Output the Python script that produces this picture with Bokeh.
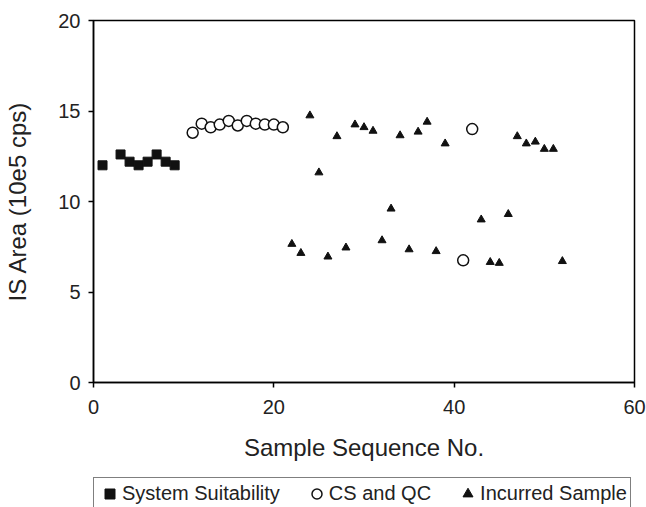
from bokeh.plotting import figure
from bokeh.models import Legend, LegendItem, Range1d, FixedTicker
from bokeh.embed import file_html
from bokeh.resources import INLINE

# System Suitability
ss_x = [1, 3, 4, 5, 6, 7, 8, 9]
ss_y = [12.0, 12.6, 12.2, 12.0, 12.2, 12.6, 12.2, 12.0]

# CS and QC
cs_x = [11, 12, 13, 14, 15, 16, 17, 18, 19, 20, 21, 41, 42]
cs_y = [13.8, 14.3, 14.1, 14.25, 14.45, 14.2, 14.45, 14.3, 14.25, 14.25, 14.1, 6.75, 14.0]

# Incurred Sample
is_x = [22, 23, 24, 25, 26, 27, 28, 29, 30, 31, 32, 33, 34, 35, 36, 37, 38, 39,
        43, 44, 45, 46, 47, 48, 49, 50, 51, 52]
is_y = [7.65, 7.15, 14.75, 11.6, 6.95, 13.6, 7.45, 14.25, 14.1, 13.9, 7.85, 9.6,
        13.65, 7.35, 13.85, 14.4, 7.25, 13.2, 9.0, 6.65, 6.6, 9.3, 13.6, 13.2,
        13.3, 12.9, 12.9, 6.7]

series_names = ["System Suitability", "CS and QC", "Incurred Sample"]
x_ticks = [0, 20, 40, 60]
y_ticks = [0, 5, 10, 15, 20]

FONT = "Liberation Sans"
INK = "#111111"

p = figure(width=646, height=470, x_range=Range1d(0, 60), y_range=Range1d(0, 20),
           output_backend="svg", toolbar_location=None,
           min_border_left=93, min_border_right=12, min_border_top=20, min_border_bottom=88)
p.background_fill_color = "white"
p.border_fill_color = "white"
p.outline_line_color = "black"
p.outline_line_width = 1.5
p.grid.visible = False

p.scatter(ss_x, ss_y, marker="square", size=9, fill_color=INK, line_color=INK)
p.scatter(cs_x, cs_y, marker="circle", size=11, fill_color="white", line_color=INK, line_width=1.5)
p.scatter(is_x, is_y, marker="triangle", size=8, fill_color=INK, line_color=INK)

for ax in (p.xaxis[0], p.yaxis[0]):
    ax.axis_line_color = "black"
    ax.axis_line_width = 1.5
    ax.major_tick_line_color = "black"
    ax.major_tick_line_width = 1.5
    ax.major_tick_in = 0
    ax.major_tick_out = 5
    ax.minor_tick_line_color = None
    ax.major_label_text_font = FONT
    ax.major_label_text_font_size = "20px"
    ax.major_label_text_color = "#222222"
    ax.axis_label_text_font = FONT
    ax.axis_label_text_font_size = "24px"
    ax.axis_label_text_font_style = "normal"
    ax.axis_label_text_color = "#222222"

p.xaxis.ticker = FixedTicker(ticks=x_ticks)
p.yaxis.ticker = FixedTicker(ticks=y_ticks)
p.xaxis.axis_label = "Sample Sequence No."
p.yaxis.axis_label = "IS Area (10e5 cps)"
p.xaxis.major_label_standoff = 12
p.xaxis.axis_label_standoff = 17
p.yaxis.major_label_standoff = 8
p.yaxis.axis_label_standoff = 24

# legend strip below the chart (its proxy glyphs lie outside its visible range)
lg = figure(width=646, height=37, x_range=Range1d(100, 101), y_range=Range1d(100, 101),
            output_backend="svg", toolbar_location=None,
            min_border_left=0, min_border_right=0, min_border_top=0, min_border_bottom=0)
lg.axis.visible = False
lg.grid.visible = False
lg.outline_line_color = None
lg.background_fill_color = "white"
lg.border_fill_color = "white"
g1 = lg.scatter(ss_x, ss_y, marker="square", size=9, fill_color=INK, line_color=INK)
g2 = lg.scatter(cs_x, cs_y, marker="circle", size=10, fill_color="white", line_color=INK, line_width=1.5)
g3 = lg.scatter(is_x, is_y, marker="triangle", size=7, fill_color=INK, line_color=INK)

legend = Legend(items=[
    LegendItem(label=series_names[0], renderers=[g1]),
    LegendItem(label=series_names[1], renderers=[g2]),
    LegendItem(label=series_names[2], renderers=[g3]),
], orientation="horizontal", location=(93, -3))
legend.label_text_font = FONT
legend.label_text_font_size = "20px"
legend.label_text_color = "#222222"
legend.border_line_color = "black"
legend.border_line_width = 1
legend.background_fill_color = "white"
legend.background_fill_alpha = 1
legend.margin = 0
legend.padding = 3
legend.spacing = 24
legend.glyph_width = 25
legend.glyph_height = 25
legend.label_standoff = -10
legend.label_height = 25
lg.add_layout(legend, "center")

open("out.html", "w").write(file_html([p, lg], INLINE))
